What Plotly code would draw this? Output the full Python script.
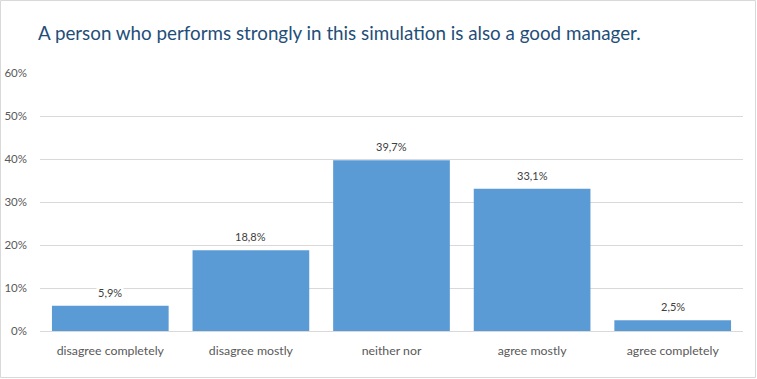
import plotly.graph_objects as go

categories = ["disagree completely", "disagree mostly", "neither nor", "agree mostly", "agree completely"]
values = [0.059, 0.188, 0.397, 0.331, 0.025]
title_text = "A person who performs strongly in this simulation is also a good manager."

W, H = 757, 379
ml, mr, mt, mb = 40, 14, 73, 48
pw, ph = W - ml - mr, H - mt - mb
FONT = "Lato, Carlito, sans-serif"

fig = go.Figure()
fig.add_trace(go.Bar(
    x=categories, y=values,
    marker=dict(color="#5B9BD5", line=dict(width=0)),
    width=0.83,
    hoverinfo="skip",
))

for c, v in zip(categories, values):
    fig.add_annotation(
        x=c, y=v, text=f"{v*100:.1f}%".replace(".", ","),
        showarrow=False, yanchor="bottom", yshift=5,
        font=dict(family=FONT, size=11, color="#404040"),
        bgcolor="white", borderpad=1,
    )

# outer chart border
fig.add_shape(type="rect", xref="paper", yref="paper",
              x0=-(ml - 0.5) / pw, x1=1 + (mr - 1.5) / pw,
              y0=-(mb - 1.5) / ph, y1=1 + (mt - 0.5) / ph,
              line=dict(color="#D9D9D9", width=1), fillcolor="rgba(0,0,0,0)", layer="above")

fig.update_layout(
    width=W, height=H,
    margin=dict(l=ml, r=mr, t=mt, b=mb, autoexpand=False),
    paper_bgcolor="white", plot_bgcolor="white",
    separators=",.",
    showlegend=False,
    title=dict(text=title_text, x=38 / W, xanchor="left", y=1 - 33 / H, yanchor="middle",
               font=dict(family=FONT, size=18.8, color="#1F4E79")),
    xaxis=dict(showgrid=False, showline=True, linecolor="#D9D9D9", linewidth=1, automargin=False,
               ticks="", tickfont=dict(family=FONT, size=12.3, color="#595959"),
               ticklabelstandoff=8),
    yaxis=dict(range=[0, 0.6], dtick=0.1, tickformat=".0%", showgrid=True, automargin=False,
               gridcolor="#D9D9D9", gridwidth=1, zeroline=False, showline=False,
               ticks="", tickfont=dict(family=FONT, size=11.5, color="#595959"),
               ticklabelstandoff=12),
)

fig.write_html("out.html", config={"displayModeBar": False},
               post_script="document.body.style.margin='0';document.body.style.overflow='hidden';")
